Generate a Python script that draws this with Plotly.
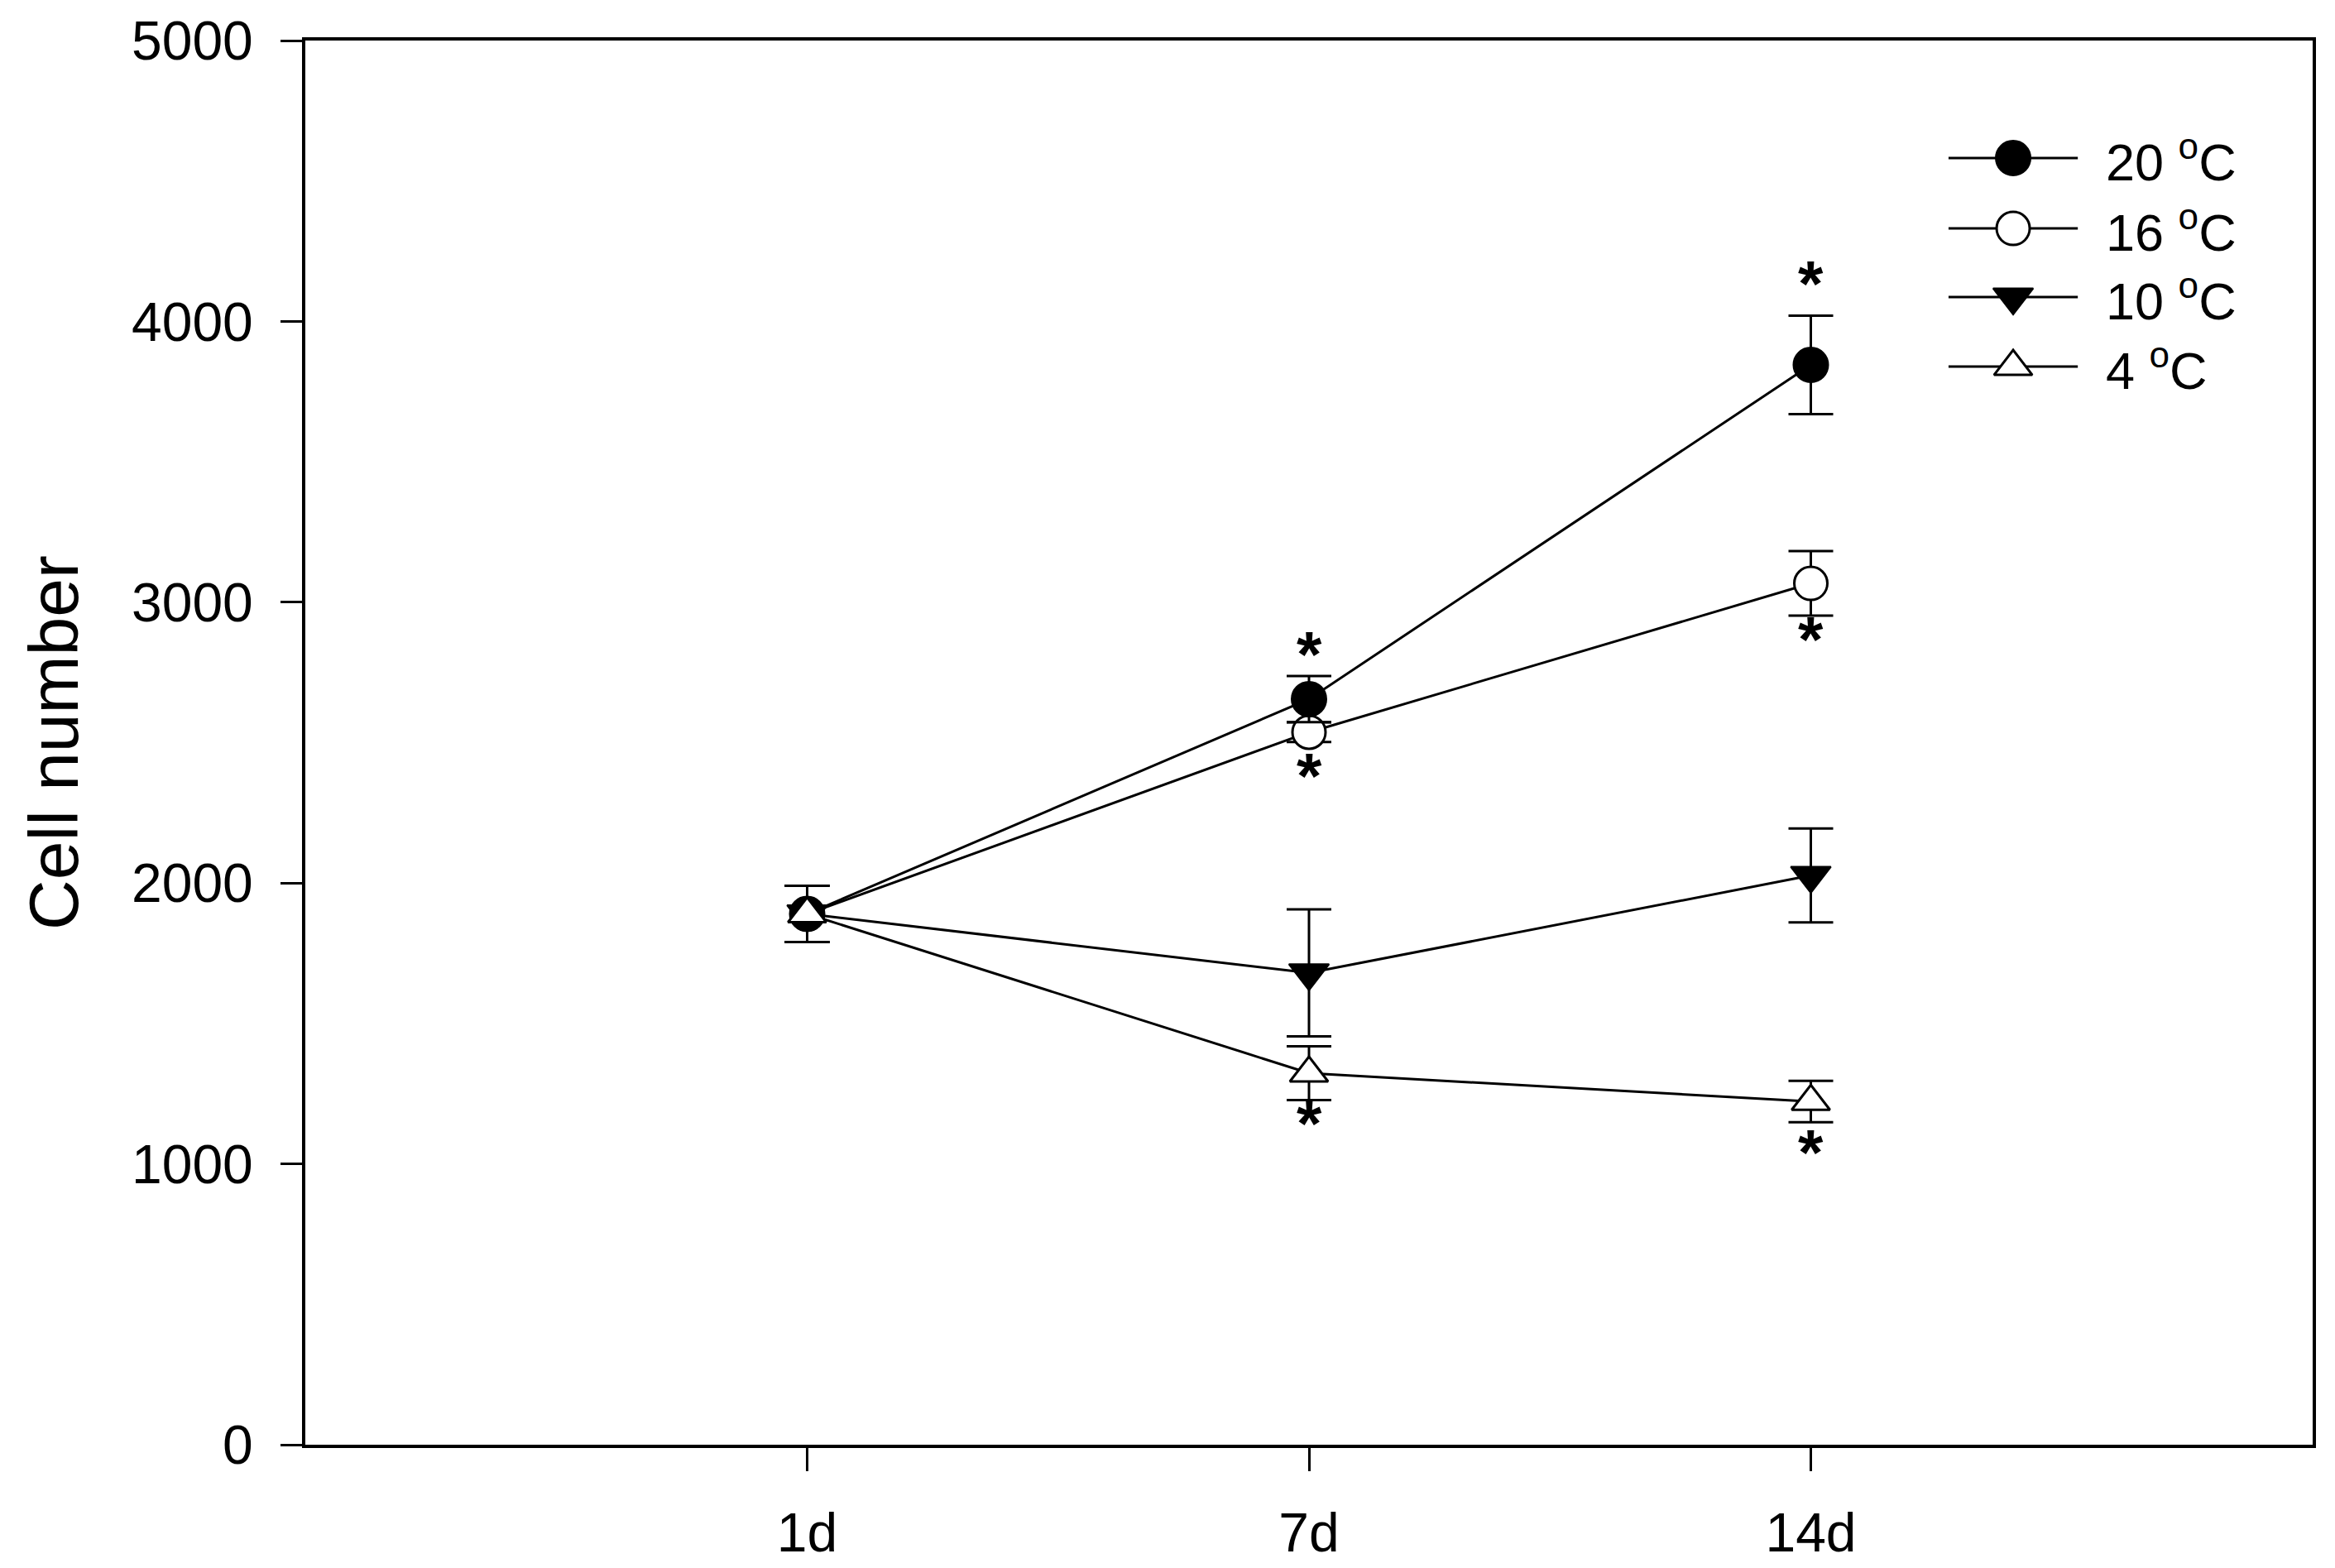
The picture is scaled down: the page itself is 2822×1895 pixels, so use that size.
import plotly.graph_objects as go

# ---------------- data ----------------
days = ["1d", "7d", "14d"]
x_pos = [1, 2, 3]

t20 = [1890, 2655, 3845]
t20_err = [100, 82, 175]
t16 = [1890, 2537, 3067]
t16_err = [100, 35, 115]
t10 = [1890, 1680, 2027]
t10_err = [100, 226, 167]
t4 = [1890, 1323, 1222]
t4_err = [100, 96, 74]

# significance stars (x index, y value)
sig_x = [2, 3, 2, 3, 2, 3]
sig_y = [2837, 4156, 2404, 2890, 1166, 1063]

y_ticks = [0, 1000, 2000, 3000, 4000, 5000]

FONT = "Liberation Sans, Arial, sans-serif"

series = {
    "20": dict(y=t20, e=t20_err, symbol="circle", fill="black", size=42, lw=2, name="20 <sup>o</sup>C"),
    "16": dict(y=t16, e=t16_err, symbol="circle", fill="white", size=40, lw=3, name="16 <sup>o</sup>C"),
    "10": dict(y=t10, e=t10_err, symbol="triangle-down", fill="black", size=42, lw=2, name="10 <sup>o</sup>C"),
    "4": dict(y=t4, e=t4_err, symbol="triangle-up", fill="white", size=40, lw=3, name="4 <sup>o</sup>C"),
}
draw_order = ["16", "20", "10", "4"]
legend_order = ["20", "16", "10", "4"]

fig = go.Figure()
for k in draw_order:
    s = series[k]
    fig.add_trace(go.Scatter(
        x=x_pos, y=s["y"], mode="lines+markers", showlegend=False,
        line=dict(color="black", width=3),
        marker=dict(symbol=s["symbol"], size=s["size"], color=s["fill"],
                    line=dict(color="black", width=s["lw"])),
        error_y=dict(type="data", array=s["e"], visible=True, color="black",
                     thickness=3, width=27),
    ))

# custom legend (on auxiliary axes that match paper coordinates)
leg_rows = [0.9163, 0.8662, 0.8173, 0.7678]
leg_x0, leg_x1, leg_xm, leg_xt = 0.8186, 0.8830, 0.8508, 0.8960
for k, yy in zip(legend_order, leg_rows):
    s = series[k]
    fig.add_trace(go.Scatter(x=[leg_x0, leg_x1], y=[yy, yy], mode="lines",
                             line=dict(color="black", width=3), showlegend=False,
                             xaxis="x2", yaxis="y2", hoverinfo="skip"))
    fig.add_trace(go.Scatter(x=[leg_xm], y=[yy], mode="markers", showlegend=False,
                             marker=dict(symbol=s["symbol"], size=s["size"], color=s["fill"],
                                         line=dict(color="black", width=s["lw"])),
                             xaxis="x2", yaxis="y2", hoverinfo="skip"))
    fig.add_annotation(x=leg_xt, y=yy, xref="paper", yref="paper", text=s["name"],
                       showarrow=False, xanchor="left", yanchor="middle",
                       font=dict(family=FONT, size=63, color="black"))

for xs, ys in zip(sig_x, sig_y):
    fig.add_annotation(x=xs, y=ys, xref="x", yref="y", text="<b>*</b>", showarrow=False,
                       xanchor="center", yanchor="middle", yshift=-8,
                       font=dict(family=FONT, size=78, color="black"))

fig.update_layout(
    width=2822, height=1895,
    margin=dict(l=369, r=27, t=49, b=149),
    paper_bgcolor="white", plot_bgcolor="white",
    font=dict(family=FONT, color="black"),
    xaxis=dict(range=[0, 4], tickvals=x_pos, ticktext=days, showgrid=False, zeroline=False,
               showline=True, linecolor="black", linewidth=4, mirror=True, automargin=False,
               ticks="outside", ticklen=28, tickwidth=3, tickcolor="black",
               tickfont=dict(family=FONT, size=66, color="black"), ticklabelstandoff=18),
    yaxis=dict(range=[0, 5000], tickvals=y_ticks, showgrid=False, zeroline=False,
               showline=True, linecolor="black", linewidth=4, mirror=True, automargin=False,
               ticks="outside", ticklen=26, tickwidth=3, tickcolor="black",
               tickfont=dict(family=FONT, size=66, color="black"), ticklabelstandoff=20,
               title=dict(text="Cell number", font=dict(family=FONT, size=84, color="black"),
                          standoff=38)),
    xaxis2=dict(domain=[0, 1], range=[0, 1], overlaying="x", visible=False, fixedrange=True),
    yaxis2=dict(domain=[0, 1], range=[0, 1], overlaying="y", visible=False, fixedrange=True),
    showlegend=False,
)

fig.write_html("out.html", config={"displayModeBar": False},
               post_script="document.body.style.margin='0px';")
